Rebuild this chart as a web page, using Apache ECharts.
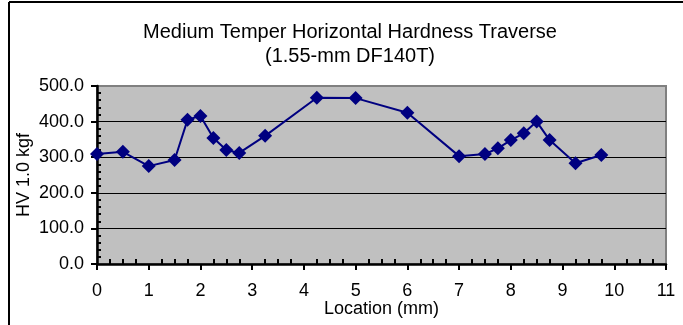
<!DOCTYPE html>
<html>
<head>
<meta charset="utf-8">
<script src="https://cdn.jsdelivr.net/npm/echarts@6/dist/echarts.min.js"></script>
<style>
  html, body { margin: 0; padding: 0; background: #fff; overflow: hidden; }
  #chart { width: 683px; height: 325px; }
</style>
</head>
<body>
<div id="chart"></div>
<script>
// Hardness traverse: location across the section (mm) vs Vickers hardness (HV 1.0 kgf)
const locations = [0, 0.5, 1, 1.5, 1.75, 2, 2.25, 2.5, 2.75, 3.25, 4.25, 5, 6, 7, 7.5, 7.75, 8, 8.25, 8.5, 8.75, 9.25, 9.75];
const hardness = [309, 315, 275, 292, 405, 416, 354, 320, 312, 360, 467, 466, 425, 303, 309, 325, 348, 367, 400, 348, 283, 306];

const titleLines = ['Medium Temper Horizontal Hardness Traverse', '(1.55-mm DF140T)'];
const xAxisTitle = 'Location (mm)';
const yAxisTitle = 'HV 1.0 kgf';

const FONT = 'Liberation Sans, Arial, sans-serif';
const points = locations.map((x, i) => [x, hardness[i]]);

const chart = echarts.init(document.getElementById('chart'), null, { renderer: 'canvas' });

chart.setOption({
  animation: false,
  backgroundColor: '#ffffff',
  title: {
    text: titleLines.join('\n'),
    left: 350,
    top: 20,
    padding: 0,
    textAlign: 'center',
    textStyle: { fontFamily: FONT, fontSize: 20, fontWeight: 'normal', color: '#000', lineHeight: 24 }
  },
  graphic: [
    // chart frame (top and left edges)
    { type: 'line', shape: { x1: 9, y1: 2, x2: 690, y2: 2 }, style: { stroke: '#000', lineWidth: 2 }, silent: true, z: 100 },
    { type: 'line', shape: { x1: 9, y1: 2, x2: 9, y2: 330 }, style: { stroke: '#000', lineWidth: 2 }, silent: true, z: 100 }
  ],
  grid: [{
    left: 97, right: 17, top: 86, bottom: 61,
    outerBoundsMode: 'none',
    containLabel: false,
    show: true, backgroundColor: '#c0c0c0', borderColor: '#808080', borderWidth: 2
  }],
  xAxis: [{
    type: 'value', min: 0, max: 11, interval: 1,
    name: xAxisTitle, nameLocation: 'middle', nameGap: 36, nameMoveOverlap: false,
    nameTextStyle: { fontFamily: FONT, fontSize: 18, color: '#000' },
    axisLine: { show: true, onZero: false, lineStyle: { color: '#000', width: 2.5 } },
    axisTick: { show: true, inside: false, length: 6, lineStyle: { color: '#000', width: 2 } },
    axisLabel: { fontFamily: FONT, fontSize: 18, color: '#000', margin: 18 },
    splitLine: { show: false },
    z: 5
  }, {
    // inside minor ticks along the location axis
    type: 'value', min: 0, max: 11, interval: 1, position: 'bottom',
    axisLine: { show: false },
    axisTick: { show: false, inside: true },
    minorTick: { show: true, splitNumber: 4, length: 5, lineStyle: { color: '#000', width: 2 } },
    axisLabel: { show: false },
    splitLine: { show: false }
  }],
  yAxis: [{
    type: 'value', min: 0, max: 500, interval: 100,
    name: yAxisTitle, nameLocation: 'middle', nameGap: 64, nameRotate: 90, nameMoveOverlap: false,
    nameTextStyle: { fontFamily: FONT, fontSize: 18, color: '#000' },
    axisLine: { show: true, onZero: false, lineStyle: { color: '#000', width: 2.5 } },
    axisTick: { show: true, inside: false, length: 6, lineStyle: { color: '#000', width: 2 } },
    axisLabel: { fontFamily: FONT, fontSize: 18, color: '#000', margin: 13, formatter: v => v.toFixed(1) },
    splitLine: { show: true, showMinLine: false, showMaxLine: false, lineStyle: { color: '#000', width: 1.2 } },
    z: 5
  }, {
    // inside minor ticks along the hardness axis
    type: 'value', min: 0, max: 500, interval: 100, position: 'left',
    axisLine: { show: false },
    axisTick: { show: false, inside: true },
    minorTick: { show: true, splitNumber: 5, length: 4, lineStyle: { color: '#000', width: 2 } },
    axisLabel: { show: false },
    splitLine: { show: false }
  }],
  series: [{
    type: 'line',
    xAxisIndex: 0,
    yAxisIndex: 0,
    data: points,
    symbol: 'diamond',
    symbolSize: [14, 14],
    showAllSymbol: true,
    clip: false,
    lineStyle: { color: '#000080', width: 2 },
    itemStyle: { color: '#000080' },
    z: 10
  }]
});
</script>
</body>
</html>
